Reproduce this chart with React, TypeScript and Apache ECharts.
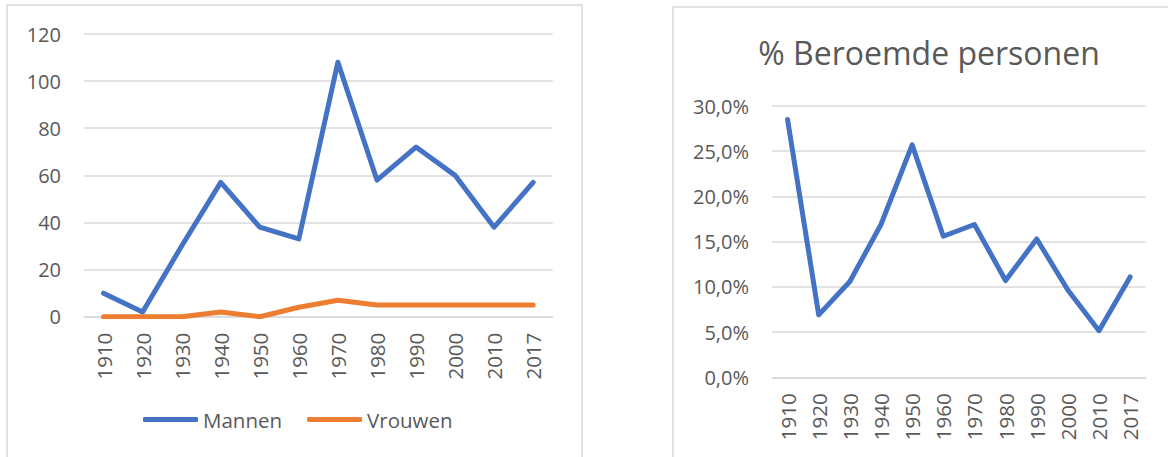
import React, { useEffect, useRef } from "react";
import * as echarts from "echarts";

const years = ["1910", "1920", "1930", "1940", "1950", "1960", "1970", "1980", "1990", "2000", "2010", "2017"];
const mannen = [10, 2, 30, 57, 38, 33, 108, 58, 72, 60, 38, 57];
const vrouwen = [0, 0, 0, 2, 0, 4, 7, 5, 5, 5, 5, 5];
const beroemdPct = [0.285, 0.069, 0.106, 0.169, 0.257, 0.156, 0.169, 0.107, 0.153, 0.0965, 0.0515, 0.111];
const titleRight = "% Beroemde personen";

const FONT = "'Open Sans', sans-serif";
const LABEL = "#595959";
const GRID = "#D9D9D9";
const BLUE = "#4472C4";
const ORANGE = "#ED7D31";

export default function App() {
  const ref = useRef<HTMLDivElement>(null);
  useEffect(() => {
    if (!ref.current) return;
    const chart = echarts.init(ref.current, null, { renderer: "svg" });
    const axisLabel = { color: LABEL, fontFamily: FONT, fontSize: 20 };
    const xAxisCommon = {
      type: "category" as const,
      data: years,
      boundaryGap: true,
      axisTick: { show: false },
      axisLine: { show: true, lineStyle: { color: GRID, width: 1.5 } },
      axisLabel: { ...axisLabel, fontSize: 20.5, rotate: 90, margin: 16, interval: 0 },
    };
    const lineStyleBase = { width: 5, cap: "round" as const, join: "round" as const };
    chart.setOption({
      animation: false,
      title: {
        text: titleRight,
        left: 924,
        top: 31,
        textAlign: "center",
        textStyle: { color: LABEL, fontFamily: FONT, fontSize: 32, fontWeight: "normal" },
      },
      legend: {
        left: 138,
        top: 404,
        icon: "roundRect",
        itemWidth: 55,
        itemHeight: 5,
        itemGap: 25,
        data: ["Mannen", "Vrouwen"],
        textStyle: { color: LABEL, fontFamily: FONT, fontSize: 20.5 },
      },
      grid: [
        { left: 84, top: 34, width: 468.7, height: 282.7 },
        { left: 772, top: 106, width: 373.7, height: 271.3 },
      ],
      xAxis: [
        { ...xAxisCommon, gridIndex: 0 },
        { ...xAxisCommon, gridIndex: 1 },
      ],
      yAxis: [
        {
          type: "value",
          gridIndex: 0,
          min: 0,
          max: 120,
          interval: 20,
          axisLine: { show: false },
          axisTick: { show: false },
          axisLabel: { ...axisLabel, margin: 23 },
          splitLine: { lineStyle: { color: GRID, width: 1.5 } },
        },
        {
          type: "value",
          gridIndex: 1,
          min: 0,
          max: 0.3,
          interval: 0.05,
          axisLine: { show: false },
          axisTick: { show: false },
          axisLabel: {
            ...axisLabel,
            margin: 23,
            formatter: (v: number) => (v * 100).toFixed(1).replace(".", ",") + "%",
          },
          splitLine: { lineStyle: { color: GRID, width: 1.5 } },
        },
      ],
      series: [
        {
          name: "Mannen",
          type: "line",
          xAxisIndex: 0,
          yAxisIndex: 0,
          data: mannen,
          symbol: "none",
          color: BLUE,
          lineStyle: { ...lineStyleBase, color: BLUE },
        },
        {
          name: "Vrouwen",
          type: "line",
          xAxisIndex: 0,
          yAxisIndex: 0,
          data: vrouwen,
          symbol: "none",
          color: ORANGE,
          lineStyle: { ...lineStyleBase, color: ORANGE },
        },
        {
          name: "Beroemd",
          type: "line",
          xAxisIndex: 1,
          yAxisIndex: 1,
          data: beroemdPct,
          symbol: "none",
          color: BLUE,
          lineStyle: { ...lineStyleBase, color: BLUE },
        },
      ],
      graphic: [
        {
          type: "rect",
          shape: { x: 7, y: 5, width: 575, height: 470 },
          style: { fill: "none", stroke: GRID, lineWidth: 1.5 },
          silent: true,
        },
        {
          type: "rect",
          shape: { x: 673, y: 7, width: 600, height: 470 },
          style: { fill: "none", stroke: GRID, lineWidth: 1.5 },
          silent: true,
        },
      ],
    });
    return () => chart.dispose();
  }, []);
  return (
    <div
      ref={ref}
      style={{ position: "absolute", left: 0, top: 0, width: 1168, height: 457, background: "#fff" }}
    />
  );
}
